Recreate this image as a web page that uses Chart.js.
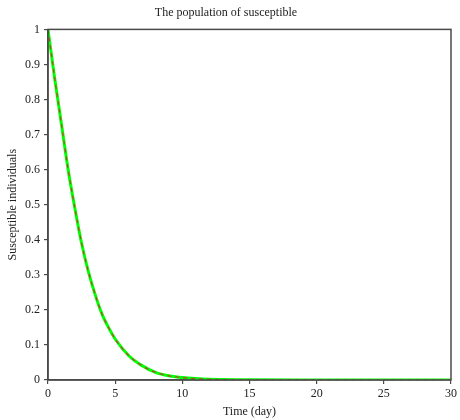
<!DOCTYPE html>
<html>
<head>
<meta charset="utf-8">
<script src="https://cdn.jsdelivr.net/npm/chart.js@4.4.1/dist/chart.umd.min.js"></script>
<style>
  html, body { margin: 0; padding: 0; background: #fff; }
  #wrap { width: 460px; height: 420px; }
</style>
</head>
<body>
<div id="wrap"><canvas id="myChart_s"></canvas></div>
<script>
  "use strict";

  // Time (day) and fraction of susceptible individuals
  const days = [0, 0.5, 1, 1.5, 2, 2.5, 3, 3.5, 4, 4.5, 5, 6, 7, 8, 9, 10, 11, 12, 13, 14, 15, 20, 25, 30];
  const solidS = [1.0, 0.86, 0.73, 0.6, 0.49, 0.39, 0.31, 0.245, 0.19, 0.15, 0.117, 0.07, 0.041, 0.022, 0.012, 0.007, 0.004, 0.002, 0.0012, 0.0007, 0.0004, 0.0001, 0, 0];
  const dashedS = [1.0, 0.86, 0.73, 0.6, 0.49, 0.39, 0.31, 0.245, 0.19, 0.15, 0.117, 0.07, 0.041, 0.022, 0.012, 0.007, 0.004, 0.002, 0.0012, 0.0007, 0.0004, 0.0001, 0, 0];
  const xTicks = [0, 5, 10, 15, 20, 25, 30];
  const yTicks = [0, 0.1, 0.2, 0.3, 0.4, 0.5, 0.6, 0.7, 0.8, 0.9, 1];

  const serif = "'Liberation Serif', 'DejaVu Serif', serif";
  const axisColor = '#4a4a4a';

  function toPoints(xs, ys) {
    return xs.map((x, i) => ({ x: x, y: ys[i] }));
  }

  // box around plot area (top and right sides)
  const frame = {
    id: 'frame',
    afterDraw(chart) {
      const a = chart.chartArea;
      const c = chart.ctx;
      c.save();
      c.strokeStyle = axisColor;
      c.lineWidth = 1.5;
      c.strokeRect(a.left, a.top, a.right - a.left, a.bottom - a.top);
      c.restore();
    }
  };

  const data_s = {
    datasets: [
      {
        label: 'dashed',
        data: toPoints(days, dashedS),
        borderColor: '#b8452a',
        borderWidth: 1.2,
        borderDash: [4, 4],
        pointRadius: 0,
        cubicInterpolationMode: 'monotone',
        order: 0
      },
      {
        label: 'solid',
        data: toPoints(days, solidS),
        borderColor: '#00ff00',
        borderWidth: 3,
        pointRadius: 0,
        cubicInterpolationMode: 'monotone',
        order: 1
      }
    ]
  };

  const config_s = {
    type: 'line',
    data: data_s,
    options: {
      responsive: true,
      maintainAspectRatio: false,
      animation: false,
      layout: { padding: { left: 0, right: 8, top: 0, bottom: 0 } },
      plugins: {
        legend: { display: false },
        tooltip: { enabled: false },
        title: {
          display: true,
          text: 'The population of susceptible',
          color: '#222',
          font: { family: serif, size: 12, weight: 'normal' },
          padding: { top: 6, bottom: 9 }
        }
      },
      scales: {
        x: {
          type: 'linear',
          min: 0,
          max: 30,
          afterBuildTicks: (s) => { s.ticks = xTicks.map(v => ({ value: v })); },
          afterFit: (s) => { s.height = 40; },
          grid: { drawOnChartArea: false, drawTicks: true, tickLength: 4, color: axisColor, lineWidth: 1.2 },
          border: { display: true, color: axisColor, width: 1.5 },
          ticks: { color: '#222', padding: 3, maxRotation: 0, font: { family: serif, size: 12 } },
          title: { display: true, text: 'Time (day)', color: '#222', padding: { top: 0, bottom: 1 }, font: { family: serif, size: 12 } }
        },
        y: {
          type: 'linear',
          min: 0,
          max: 1,
          afterBuildTicks: (s) => { s.ticks = yTicks.map(v => ({ value: v })); },
          afterFit: (s) => { s.width = 48; },
          grid: { drawOnChartArea: false, drawTicks: true, tickLength: 4, color: axisColor, lineWidth: 1.2 },
          border: { display: true, color: axisColor, width: 1.5 },
          ticks: {
            color: '#222',
            padding: 4,
            font: { family: serif, size: 12 },
            callback: (v) => String(Math.round(v * 10) / 10)
          },
          title: { display: true, text: 'Susceptible individuals', color: '#222', padding: { top: 6, bottom: 0 }, font: { family: serif, size: 12 } }
        }
      }
    },
    plugins: [frame]
  };

  const ctx_s = document.getElementById('myChart_s');
  const myChart_s = new Chart(ctx_s, config_s);
</script>
</body>
</html>
